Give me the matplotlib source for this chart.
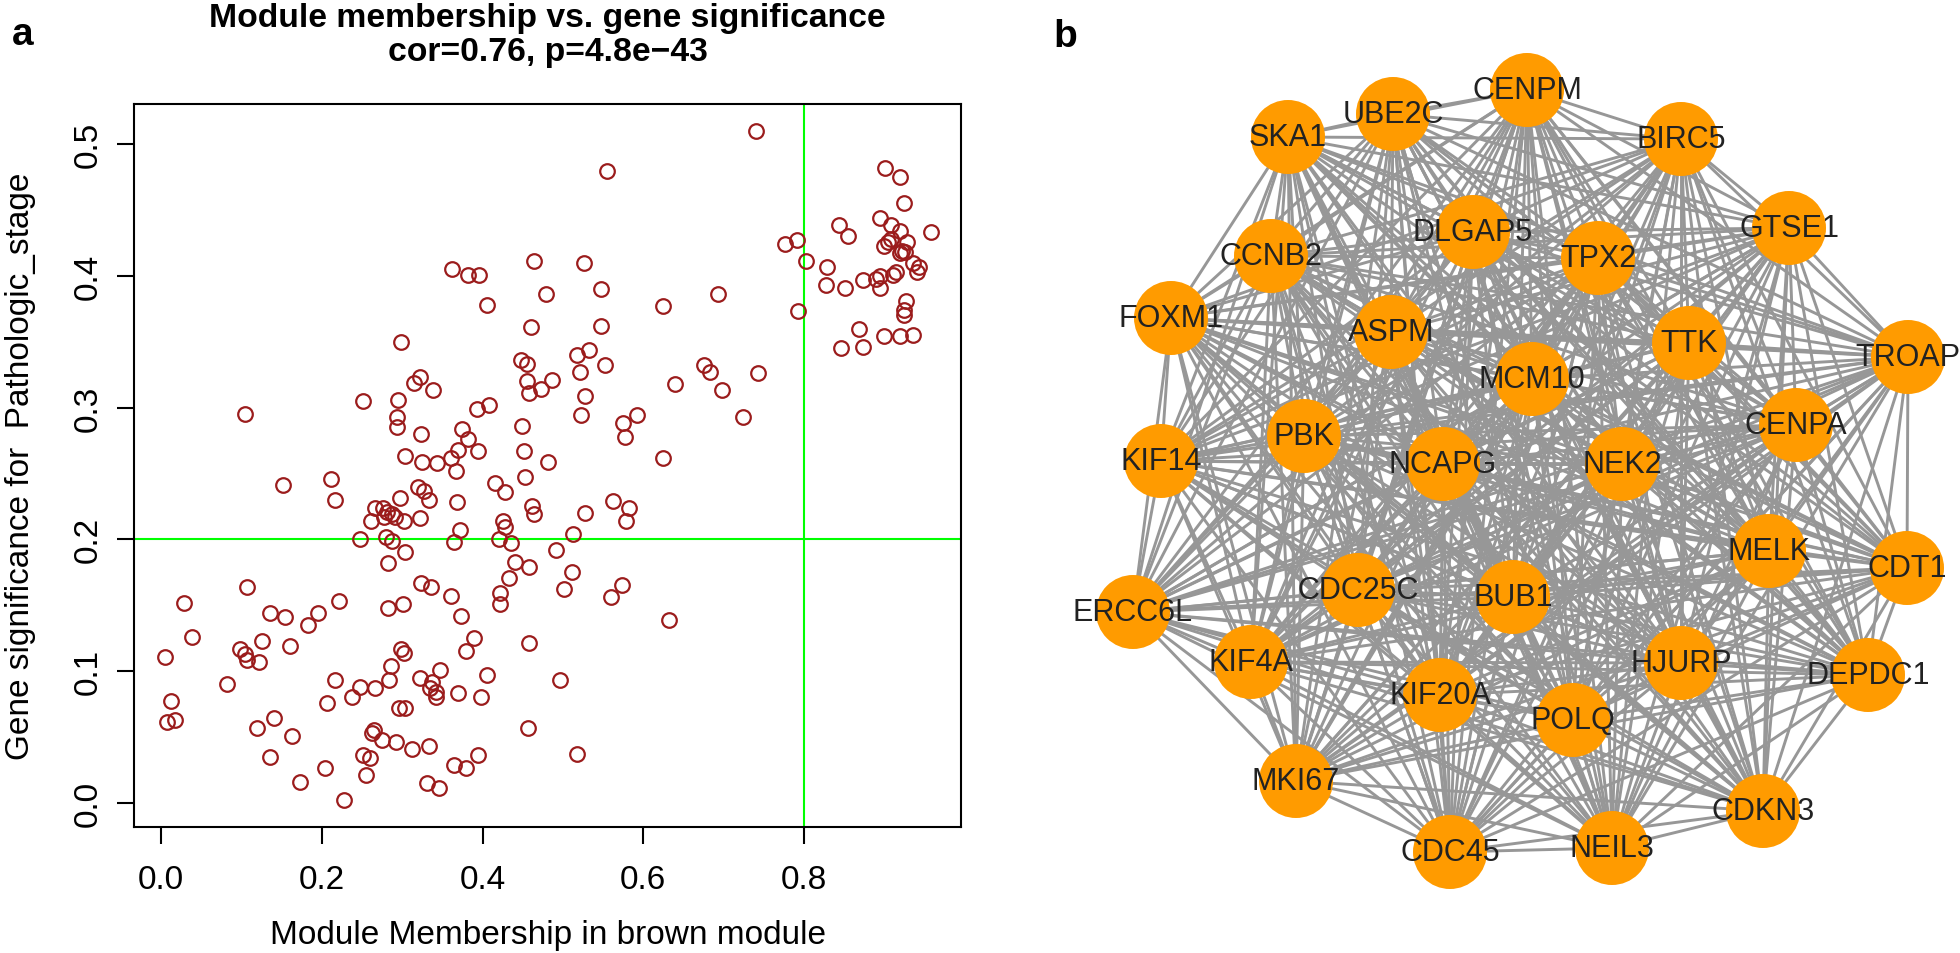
import itertools
import matplotlib
matplotlib.use('Agg')
import matplotlib.pyplot as plt
from matplotlib.collections import LineCollection

plt.rcParams['font.family'] = ['Liberation Sans', 'DejaVu Sans']

# panel a: module membership (x) vs gene significance (y)
mm = [0.362, 0.382, 0.396, 0.464, 0.479, 0.405, 0.460, 0.298, 0.448, 0.455,
      0.486, 0.455, 0.458, 0.473, 0.322, 0.315, 0.338, 0.251, 0.295, 0.105,
      0.393, 0.408, 0.293, 0.293, 0.324, 0.375, 0.382, 0.449, 0.369, 0.361,
      0.395, 0.451, 0.303, 0.325, 0.343, 0.367, 0.482, 0.152, 0.212, 0.216,
      0.415, 0.428, 0.453, 0.320, 0.327, 0.334, 0.297, 0.368, 0.462, 0.464,
      0.266, 0.276, 0.281, 0.287, 0.277, 0.291, 0.302, 0.261, 0.322, 0.425,
      0.428, 0.372, 0.247, 0.280, 0.287, 0.364, 0.420, 0.435, 0.304, 0.283,
      0.440, 0.458, 0.433, 0.422, 0.422, 0.107, 0.029, 0.038, 0.005, 0.013,
      0.008, 0.017, 0.324, 0.336, 0.282, 0.301, 0.361, 0.373, 0.222, 0.136,
      0.154, 0.195, 0.183, 0.126, 0.160, 0.098, 0.105, 0.107, 0.122, 0.082,
      0.389, 0.380, 0.458, 0.299, 0.302, 0.286, 0.284, 0.347, 0.322, 0.337,
      0.335, 0.342, 0.342, 0.405, 0.369, 0.398, 0.217, 0.248, 0.266, 0.238,
      0.207, 0.296, 0.303, 0.141, 0.120, 0.163, 0.136, 0.457, 0.265, 0.262,
      0.275, 0.292, 0.312, 0.333, 0.251, 0.260, 0.394, 0.364, 0.379, 0.204,
      0.255, 0.173, 0.331, 0.346, 0.228, 0.740, 0.555, 0.901, 0.920, 0.924,
      0.895, 0.908, 0.919, 0.843, 0.855, 0.958, 0.908, 0.905, 0.928, 0.899,
      0.922, 0.926, 0.919, 0.935, 0.943, 0.941, 0.776, 0.791, 0.803, 0.828,
      0.827, 0.851, 0.873, 0.889, 0.894, 0.895, 0.911, 0.915, 0.927, 0.924,
      0.925, 0.869, 0.846, 0.873, 0.900, 0.919, 0.935, 0.793, 0.693, 0.625,
      0.526, 0.547, 0.548, 0.517, 0.532, 0.552, 0.521, 0.528, 0.523, 0.575,
      0.592, 0.577, 0.639, 0.676, 0.683, 0.698, 0.743, 0.724, 0.624, 0.562,
      0.582, 0.578, 0.528, 0.512, 0.491, 0.511, 0.501, 0.574, 0.560, 0.632,
      0.496, 0.517]
gs = [0.405, 0.401, 0.401, 0.411, 0.386, 0.378, 0.361, 0.350, 0.336, 0.333,
      0.321, 0.320, 0.311, 0.314, 0.323, 0.319, 0.313, 0.305, 0.306, 0.295,
      0.299, 0.302, 0.293, 0.285, 0.280, 0.284, 0.276, 0.286, 0.268, 0.262,
      0.267, 0.267, 0.263, 0.259, 0.258, 0.252, 0.259, 0.241, 0.246, 0.230,
      0.243, 0.236, 0.247, 0.240, 0.237, 0.230, 0.231, 0.228, 0.225, 0.219,
      0.224, 0.224, 0.221, 0.219, 0.217, 0.217, 0.214, 0.214, 0.216, 0.214,
      0.209, 0.207, 0.200, 0.202, 0.199, 0.198, 0.200, 0.197, 0.190, 0.182,
      0.183, 0.179, 0.171, 0.159, 0.151, 0.164, 0.152, 0.126, 0.111, 0.077,
      0.061, 0.063, 0.167, 0.164, 0.148, 0.151, 0.157, 0.142, 0.153, 0.144,
      0.141, 0.144, 0.135, 0.123, 0.119, 0.117, 0.113, 0.108, 0.107, 0.090,
      0.125, 0.115, 0.121, 0.117, 0.114, 0.104, 0.093, 0.101, 0.095, 0.092,
      0.087, 0.084, 0.080, 0.097, 0.083, 0.080, 0.093, 0.088, 0.087, 0.080,
      0.076, 0.072, 0.072, 0.064, 0.057, 0.051, 0.035, 0.057, 0.055, 0.053,
      0.048, 0.046, 0.041, 0.043, 0.036, 0.034, 0.036, 0.029, 0.026, 0.026,
      0.021, 0.016, 0.015, 0.011, 0.002, 0.510, 0.480, 0.482, 0.475, 0.455,
      0.444, 0.439, 0.434, 0.439, 0.430, 0.433, 0.428, 0.426, 0.426, 0.423,
      0.419, 0.418, 0.417, 0.410, 0.407, 0.403, 0.424, 0.427, 0.411, 0.407,
      0.393, 0.391, 0.397, 0.398, 0.400, 0.391, 0.401, 0.403, 0.381, 0.374,
      0.370, 0.360, 0.345, 0.346, 0.354, 0.354, 0.355, 0.373, 0.386, 0.377,
      0.410, 0.390, 0.362, 0.340, 0.344, 0.332, 0.327, 0.309, 0.294, 0.288,
      0.294, 0.278, 0.318, 0.332, 0.327, 0.313, 0.326, 0.293, 0.262, 0.229,
      0.224, 0.214, 0.220, 0.204, 0.192, 0.175, 0.162, 0.165, 0.156, 0.139,
      0.093, 0.037]
mm_cut = 0.8
gs_cut = 0.2
x_ticks = [0.0, 0.2, 0.4, 0.6, 0.8]
y_ticks = [0.0, 0.1, 0.2, 0.3, 0.4, 0.5]

# panel b: hub gene network (layout, pixel units)
genes = ['CENPM', 'UBE2C', 'SKA1', 'BIRC5', 'GTSE1', 'DLGAP5', 'TPX2', 'CCNB2',
         'FOXM1', 'ASPM', 'TTK', 'TROAP', 'MCM10', 'KIF14', 'PBK', 'NCAPG',
         'NEK2', 'CENPA', 'MELK', 'CDT1', 'ERCC6L', 'CDC25C', 'BUB1', 'KIF4A',
         'HJURP', 'DEPDC1', 'KIF20A', 'POLQ', 'MKI67', 'CDKN3', 'CDC45', 'NEIL3']
node_x = [1527, 1393, 1288, 1681, 1789, 1473, 1598, 1271,
          1171, 1391, 1689, 1908, 1532, 1161, 1304, 1443,
          1622, 1796, 1769, 1907, 1133, 1358, 1513, 1251,
          1681, 1868, 1440, 1573, 1296, 1763, 1450, 1612]
node_y = [91, 115, 138, 140, 229, 233, 259, 257,
          319, 333, 344, 358, 380, 462, 437, 465,
          465, 426, 552, 569, 613, 591, 598, 663,
          664, 676, 696, 721, 782, 812, 853, 849]
edges = list(itertools.combinations(range(len(genes)), 2))

fig = plt.figure(figsize=(19.6, 9.54), dpi=100)

ax = fig.add_axes([134 / 1960, 1 - 827.7 / 954, 827 / 1960, 722.7 / 954])
ax.plot(mm, gs, 'o', mfc='none', mec='#9B1C1C', ms=10.5, mew=1.6, ls='none', zorder=3)
ax.axhline(gs_cut, color='#00FF00', lw=1.5, zorder=2)
ax.axvline(mm_cut, color='#00FF00', lw=1.5, zorder=2)
ax.set_xlim(-0.0336, 0.9953)
ax.set_ylim(-0.0182, 0.5305)
ax.set_xticks(x_ticks)
ax.set_xticklabels(['%.1f' % v for v in x_ticks])
ax.set_yticks(y_ticks)
ax.set_yticklabels(['%.1f' % v for v in y_ticks], rotation=90, va='center')
ax.tick_params(direction='out', length=12, width=1.5, labelsize=24, pad=15)
ax.tick_params(axis='y', pad=10)
for s in ax.spines.values():
    s.set_linewidth(1.5)
ax.set_xlabel('Module Membership in brown module', fontsize=24, labelpad=17)
ax.set_ylabel('Gene significance for  Pathologic_stage', fontsize=24, labelpad=26)
ax.set_title('Module membership vs. gene significance\ncor=0.76, p=4.8e\u221243',
             fontsize=24.3, fontweight='bold', pad=32, linespacing=1.1)

fig.text(12 / 1960, 1 - 45 / 954, 'a', fontsize=28, fontweight='bold')
fig.text(1053 / 1960, 1 - 47 / 954, 'b', fontsize=28, fontweight='bold')

ax2 = fig.add_axes([0.5, 0, 0.5, 1])
ax2.set_xlim(980, 1960)
ax2.set_ylim(954, 0)
ax2.axis('off')
segs = [[(node_x[i], node_y[i]), (node_x[j], node_y[j])] for i, j in edges]
ax2.add_collection(LineCollection(segs, colors='#979797', linewidths=2.1, zorder=1))
ax2.scatter(node_x, node_y, s=(74 * 0.72) ** 2, c='#FF9B00', edgecolors='none', zorder=2)
for g, x, y in zip(genes, node_x, node_y):
    ax2.text(x, y, g, fontsize=22, color='#222222', ha='center', va='center', zorder=3)

fig.savefig('out.png', dpi=100)
